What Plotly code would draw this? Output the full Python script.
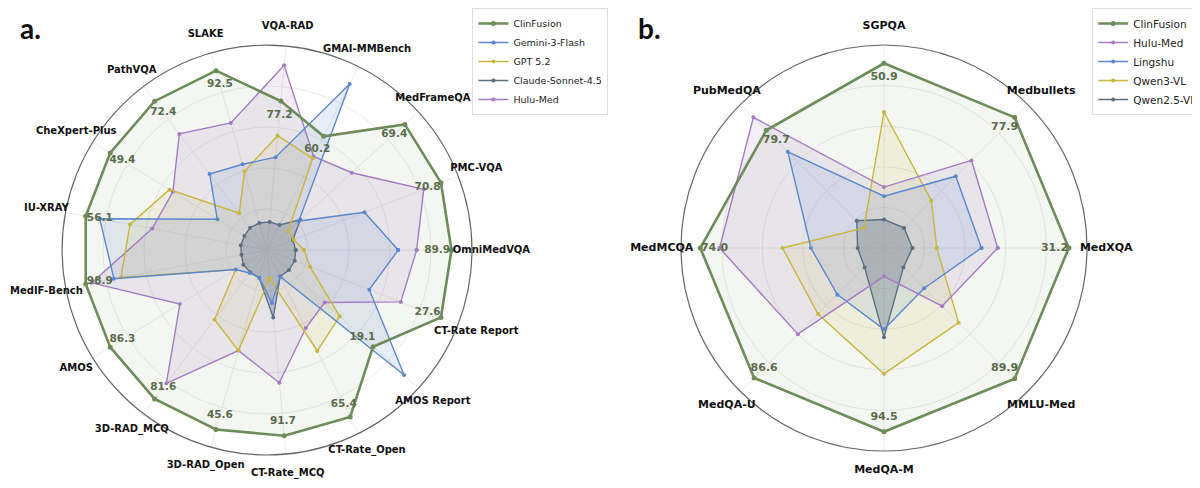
import plotly.graph_objects as go

# Panel a: categories in counter-clockwise order, starting at 3 o'clock
cats_a = ["OmniMedVQA", "PMC-VQA", "MedFrameQA", "GMAI-MMBench", "VQA-RAD", "SLAKE",
          "PathVQA", "CheXpert-Plus", "IU-XRAY", "MedIF-Bench", "AMOS", "3D-RAD_MCQ",
          "3D-RAD_Open", "CT-Rate_MCQ", "CT-Rate_Open", "AMOS Report", "CT-Rate Report"]
# normalized radial scores (outer ring = 1.0)
clin_a = [0.90, 0.91, 0.91, 0.62, 0.73, 0.91, 0.91, 0.90, 0.90, 0.90, 0.90, 0.91, 0.91, 0.91, 0.91, 0.70, 0.91]
gemini_a = [0.64, 0.51, 0.21, 0.905, 0.455, 0.435, 0.465, 0.285, 0.83, 0.76, 0.18, 0.14, 0.14, 0.26, 0.145, 0.905, 0.535]
gpt_a = [0.18, 0.14, 0.14, 0.50, 0.56, 0.40, 0.225, 0.56, 0.68, 0.725, 0.18, 0.425, 0.51, 0.14, 0.55, 0.48, 0.225]
claude_a = [0.14, 0.135, 0.22, 0.137, 0.138, 0.137, 0.137, 0.13, 0.13, 0.127, 0.136, 0.136, 0.14, 0.33, 0.144, 0.145, 0.145]
hulu_a = [0.73, 0.82, 0.56, 0.51, 0.905, 0.645, 0.71, 0.54, 0.57, 0.87, 0.50, 0.815, 0.51, 0.65, 0.425, 0.38, 0.70]
# ClinFusion raw scores printed on the chart
clin_a_scores = ["89.9", "70.8", "69.4", "60.2", "77.2", "92.5", "72.4", "49.4", "56.1",
                 "98.9", "86.3", "81.6", "45.6", "91.7", "65.4", "19.1", "27.6"]

# Panel b
cats_b = ["MedXQA", "Medbullets", "SGPQA", "PubMedQA", "MedMCQA", "MedQA-U", "MedQA-M", "MMLU-Med"]
clin_b = [0.91, 0.91, 0.91, 0.82, 0.905, 0.905, 0.905, 0.91]
hulu_b = [0.56, 0.61, 0.30, 0.91, 0.81, 0.60, 0.14, 0.405]
lingshu_b = [0.48, 0.50, 0.255, 0.67, 0.36, 0.325, 0.40, 0.28]
qwen3_b = [0.26, 0.33, 0.67, 0.14, 0.50, 0.46, 0.62, 0.52]
qwen25_b = [0.14, 0.14, 0.14, 0.19, 0.13, 0.135, 0.44, 0.135]
clin_b_scores = ["31.2", "77.9", "50.9", "79.7", "74.0", "86.6", "94.5", "89.9"]

GREEN = "#6d8c5a"
BLUE = "#5a88cc"
YELLOW = "#c9b63e"
SLATE = "#5c7080"
PURPLE = "#a47cc2"

LABEL_R = 1.095   # benchmark names sit just outside the outer ring
OUTER = 1.15      # radial range of the (invisible) label overlay


def rgba(hex_color, a):
    h = hex_color.lstrip("#")
    return "rgba(%d,%d,%d,%s)" % (int(h[0:2], 16), int(h[2:4], 16), int(h[4:6], 16), a)


fig = go.Figure()


def add_panel(subplot, label_subplot, legend, cats, series, scores, clin_vals,
              label_size, score_size):
    closed = cats + cats[:1]
    # fills first so every outline sits above them
    for name, vals, color, width, alpha, rank in series:
        fig.add_trace(go.Scatterpolar(
            r=vals + vals[:1], theta=closed, subplot=subplot, mode="lines",
            fill="toself", fillcolor=rgba(color, alpha), line=dict(width=0),
            showlegend=False, hoverinfo="skip"))
    for name, vals, color, width, alpha, rank in reversed(series):
        fig.add_trace(go.Scatterpolar(
            r=vals + vals[:1], theta=closed, subplot=subplot, legend=legend,
            mode="lines+markers", name=name, legendrank=rank,
            line=dict(color=color, width=width),
            marker=dict(color=color, size=5 if width > 2 else 4)))
    # ClinFusion scores, just inside each ClinFusion vertex
    fig.add_trace(go.Scatterpolar(
        r=[v - 0.07 for v in clin_vals], theta=cats, subplot=subplot, mode="text",
        text=["<b>%s</b>" % s for s in scores], cliponaxis=False,
        textfont=dict(family="DejaVu Sans", size=score_size, color="#5a6b4a"),
        showlegend=False, hoverinfo="skip"))
    # benchmark names around the rim, on a wider transparent polar
    fig.add_trace(go.Scatterpolar(
        r=[LABEL_R] * len(cats), theta=cats, subplot=label_subplot, mode="text",
        text=["<b>%s</b>" % c for c in cats], cliponaxis=False,
        textfont=dict(family="DejaVu Sans", size=label_size, color="#111111"),
        showlegend=False, hoverinfo="skip"))


add_panel("polar", "polar3", "legend", cats_a, [
    ("ClinFusion", clin_a, GREEN, 2.6, 0.08, 1),
    ("Gemini-3-Flash", gemini_a, BLUE, 1.4, 0.14, 2),
    ("GPT 5.2", gpt_a, YELLOW, 1.4, 0.12, 3),
    ("Claude-Sonnet-4.5", claude_a, SLATE, 1.4, 0.32, 4),
    ("Hulu-Med", hulu_a, PURPLE, 1.4, 0.14, 5),
], clin_a_scores, clin_a, 10, 10.5)

add_panel("polar2", "polar4", "legend2", cats_b, [
    ("ClinFusion", clin_b, GREEN, 2.6, 0.08, 1),
    ("Hulu-Med", hulu_b, PURPLE, 1.4, 0.14, 2),
    ("Lingshu", lingshu_b, BLUE, 1.4, 0.14, 3),
    ("Qwen3-VL", qwen3_b, YELLOW, 1.4, 0.12, 4),
    ("Qwen2.5-VL", qwen25_b, SLATE, 1.4, 0.32, 5),
], clin_b_scores, clin_b, 11, 11)

polar_style = dict(
    bgcolor="white",
    radialaxis=dict(range=[0, 1], tickvals=[0.2, 0.4, 0.6, 0.8, 1.0], showticklabels=False,
                    ticks="", showline=False, gridcolor="#ebebeb", gridwidth=1),
    angularaxis=dict(direction="counterclockwise", rotation=0, showticklabels=False,
                     ticks="", showline=True, linecolor="#666666", linewidth=1.2,
                     gridcolor="#ebebeb"),
)

label_style = dict(
    bgcolor="rgba(0,0,0,0)",
    radialaxis=dict(range=[0, OUTER], visible=False, showgrid=False),
    angularaxis=dict(direction="counterclockwise", rotation=0, showticklabels=False,
                     ticks="", showline=False, showgrid=False),
)

legend_style = dict(
    yanchor="top", y=1.0, bgcolor="white", bordercolor="#dddddd", borderwidth=1,
    tracegroupgap=0, itemwidth=30,
)

fig.update_layout(
    width=1200, height=488,
    margin=dict(l=0, r=0, t=0, b=0),
    paper_bgcolor="white",
    font=dict(family="DejaVu Sans"),
    polar=dict(domain=dict(x=[0.045, 0.3867], y=[0.084, 0.924]), **polar_style),
    polar2=dict(domain=dict(x=[0.5608, 0.8992], y=[0.0922, 0.9242]), **polar_style),
    polar3=dict(domain=dict(x=[0.0194, 0.4123], y=[0.021, 0.987]), **label_style),
    polar4=dict(domain=dict(x=[0.5355, 0.9245], y=[0.0298, 0.9866]), **label_style),
    legend=dict(x=0.387, xanchor="left",
                font=dict(family="DejaVu Sans", size=9.5, color="#222222"), **legend_style),
    legend2=dict(x=0.996, xanchor="right",
                 font=dict(family="DejaVu Sans", size=10.5, color="#222222"), **legend_style),
    annotations=[
        dict(text="<b>a.</b>", x=0.008, y=0.96, xref="paper", yref="paper",
             xanchor="left", yanchor="middle", showarrow=False,
             font=dict(family="Lato", size=28, color="#111111")),
        dict(text="<b>b.</b>", x=0.523, y=0.96, xref="paper", yref="paper",
             xanchor="left", yanchor="middle", showarrow=False,
             font=dict(family="Lato", size=28, color="#111111")),
    ],
    shapes=[
        dict(type="rect", xref="paper", yref="paper", x0=0, x1=1, y0=0, y1=0.008,
             fillcolor="black", line=dict(width=0), layer="above"),
    ],
)

fig.write_html("out.html")
